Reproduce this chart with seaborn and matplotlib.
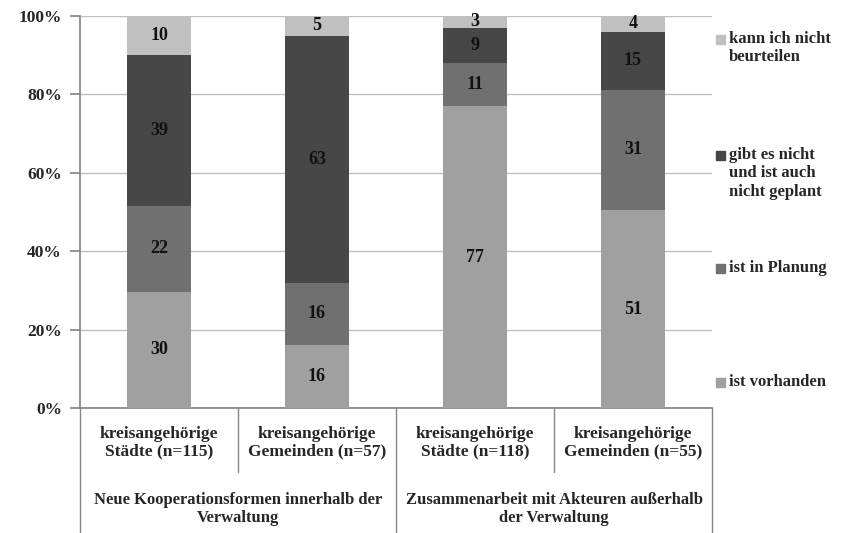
import numpy as np
import pandas as pd
import matplotlib
matplotlib.use("Agg")
import matplotlib.pyplot as plt
from matplotlib.patches import Rectangle
import seaborn as sns

# Survey answers per group (absolute shares as printed in the bars)
bars = ["Städte 1", "Gemeinden 1", "Städte 2", "Gemeinden 2"]
bar_labels = ["kreisangehörige\nStädte (n=115)", "kreisangehörige\nGemeinden (n=57)",
              "kreisangehörige\nStädte (n=118)", "kreisangehörige\nGemeinden (n=55)"]
group_labels = ["Neue Kooperationsformen innerhalb der\nVerwaltung",
                "Zusammenarbeit mit Akteuren außerhalb\nder Verwaltung"]

series = ["ist vorhanden", "ist in Planung",
          "gibt es nicht\nund ist auch\nnicht geplant", "kann ich nicht\nbeurteilen"]
vorhanden = [30, 16, 77, 51]
planung = [22, 16, 11, 31]
gibt_nicht = [39, 63, 9, 15]
kann_nicht = [10, 5, 3, 4]
colors = ["#A0A0A0", "#707070", "#474747", "#C0C0C0"]

values = np.array([vorhanden, planung, gibt_nicht, kann_nicht], dtype=float)
totals = values.sum(axis=0)
shares = values / totals * 100.0
cum = np.cumsum(shares, axis=0)

sns.set_theme(style="white")
plt.rcParams["font.family"] = ["Liberation Serif", "DejaVu Serif"]
plt.rcParams["font.weight"] = "bold"

FS = 12.5

fig = plt.figure(figsize=(8.52, 5.33), dpi=100)
ax = fig.add_axes([80 / 852, 1 - 408 / 533, 632 / 852, 392 / 533])

# Stacked bars: draw cumulative totals from the top layer down
for i in range(len(series) - 1, -1, -1):
    df = pd.DataFrame({"bar": bars, "value": cum[i]})
    sns.barplot(data=df, x="bar", y="value", order=bars, color=colors[i],
                width=0.4, saturation=1, ax=ax, zorder=3, linewidth=0)

# Segment value labels
for i in range(len(series)):
    for j in range(len(bars)):
        mid = cum[i, j] - shares[i, j] / 2
        ax.text(j, mid, f"{int(values[i, j])}", ha="center", va="center",
                fontsize=13, fontweight="bold", color="#111111", zorder=5)

ax.set_ylim(0, 100)
ax.set_xlim(-0.5, 3.5)
ax.set_yticks([0, 20, 40, 60, 80, 100])
ax.set_yticklabels([f"{v}%" for v in [0, 20, 40, 60, 80, 100]],
                   fontsize=FS, fontweight="bold")
ax.set_xticks([])
ax.set_xlabel("")
ax.set_ylabel("")
ax.yaxis.grid(True, color="#C0C0C0", linewidth=1, zorder=0)
ax.set_axisbelow(True)
for s in ["top", "right"]:
    ax.spines[s].set_visible(False)
ax.spines["left"].set_color("#868686")
ax.spines["bottom"].set_color("#868686")
ax.tick_params(axis="y", left=True, length=7, color="#868686", pad=6)

# Category axis with two label levels
tr = ax.get_xaxis_transform()
for j, lab in enumerate(bar_labels):
    ax.text(j, -0.088, lab, transform=tr, ha="center", va="center",
            fontsize=FS, fontweight="bold", linespacing=1.1)
for g, lab in enumerate(group_labels):
    ax.text(0.5 + 2 * g, -0.258, lab, transform=tr, ha="center", va="center",
            fontsize=12, fontweight="bold", linespacing=1.15)
line_kw = dict(transform=tr, color="#868686", linewidth=1, clip_on=False)
for xpos in [0.5, 2.5]:
    ax.plot([xpos, xpos], [0, -0.163], **line_kw)
for xpos in [-0.5, 1.5, 3.5]:
    ax.plot([xpos, xpos], [0, -0.32], **line_kw)

# Legend entries at the right
legend_y = [382, 268, 155, 39]
for i in range(len(series) - 1, -1, -1):
    ytop = legend_y[i]
    fig.patches.append(Rectangle((716 / 852, 1 - (ytop + 5) / 533), 9 / 852, 9 / 533,
                                 transform=fig.transFigure, color=colors[i]))
    fig.text(729 / 852, 1 - (ytop - 8) / 533, series[i], ha="left", va="top",
             fontsize=12, fontweight="bold", linespacing=1.2)

fig.savefig("out.png", dpi=100)
